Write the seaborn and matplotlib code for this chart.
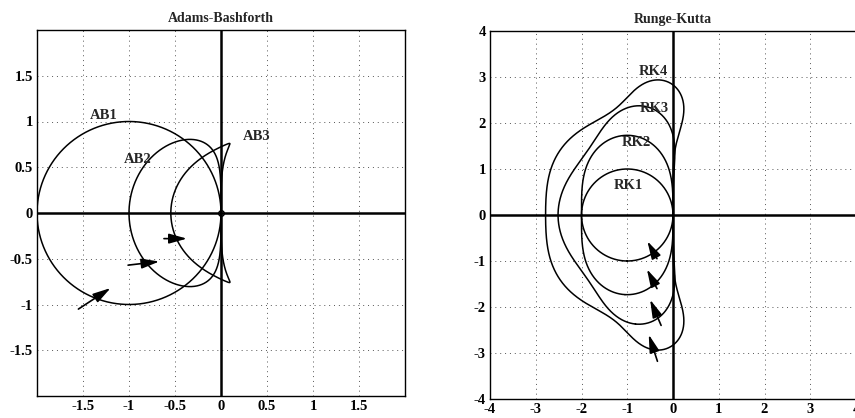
import numpy as np
import pandas as pd
import matplotlib
matplotlib.use("Agg")
import matplotlib.pyplot as plt
import seaborn as sns
import contourpy
from math import factorial

# ---- data: method definitions ----
ab_names = ["AB1", "AB2", "AB3"]
ab1_beta = [1.0]
ab2_beta = [3 / 2, -1 / 2]
ab3_beta = [23 / 12, -16 / 12, 5 / 12]
rk_names = ["RK1", "RK2", "RK3", "RK4"]
rk_orders = [1, 2, 3, 4]

# labels (text, x, y)
ab_label_x = [-1.27, -0.90, 0.39]
ab_label_y = [1.07, 0.58, 0.84]
rk_label_x = [-0.97, -0.81, -0.40, -0.44]
rk_label_y = [0.65, 1.58, 2.32, 3.12]

# arrows (start -> end)
ab_arrow_x0 = [-1.55, -1.01, -0.62]
ab_arrow_y0 = [-1.05, -0.57, -0.28]
ab_arrow_x1 = [-1.20, -0.67, -0.37]
ab_arrow_y1 = [-0.82, -0.53, -0.28]
rk_arrow_x0 = [-0.35, -0.35, -0.26, -0.34]
rk_arrow_y0 = [-0.95, -1.60, -2.40, -3.18]
rk_arrow_x1 = [-0.56, -0.57, -0.50, -0.53]
rk_arrow_y1 = [-0.57, -1.18, -1.84, -2.60]

ticks_left = [-1.5, -1, -0.5, 0, 0.5, 1, 1.5]
ticks_left_lbl = ["-1.5", "-1", "-0.5", "0", "0.5", "1", "1.5"]
ticks_right = [-4, -3, -2, -1, 0, 1, 2, 3, 4]

# ---- curves ----
theta = np.linspace(0, 2 * np.pi, 2001)
zeta = np.exp(1j * theta)
ab_frames = []
for name, beta in zip(ab_names, [ab1_beta, ab2_beta, ab3_beta]):
    k = len(beta)
    rho = zeta ** k - zeta ** (k - 1)
    sigma = np.polyval(beta, zeta)
    z = rho / sigma
    ab_frames.append(pd.DataFrame({"x": z.real, "y": z.imag, "m": name}))

xs = np.linspace(-4, 4, 801)
X, Y = np.meshgrid(xs, xs)
Z = X + 1j * Y
rk_frames = []
for name, p in zip(rk_names, rk_orders):
    R = sum(Z ** j / factorial(j) for j in range(p + 1))
    cg = contourpy.contour_generator(X, Y, np.abs(R))
    for si, seg in enumerate(cg.lines(1.0)):
        rk_frames.append(pd.DataFrame({"x": seg[:, 0], "y": seg[:, 1], "m": f"{name}_{si}"}))

# ---- figure ----
sns.set_theme(style="white")
plt.rcParams["font.family"] = ["Liberation Serif", "DejaVu Serif"]
W, H = 855, 418
fig = plt.figure(figsize=(W / 100, H / 100), dpi=100)
axL = fig.add_axes([37 / W, (H - 396) / H, 368 / W, 366 / H])
axR = fig.add_axes([490 / W, (H - 399) / H, 366 / W, 368 / H])

lw = 1.1
for df in ab_frames:
    sns.lineplot(data=df, x="x", y="y", sort=False, estimator=None, color="black",
                 lw=lw, ax=axL)
for df in rk_frames:
    sns.lineplot(data=df, x="x", y="y", sort=False, estimator=None, color="black",
                 lw=lw, ax=axR)

axL.plot([0], [0], marker="o", ms=4, mfc="none", mec="black", mew=1.0)

for ax, lim, ticks, lbls, title in [
    (axL, 2, ticks_left, ticks_left_lbl, "Adams-Bashforth"),
    (axR, 4, ticks_right, [str(t) for t in ticks_right], "Runge-Kutta"),
]:
    ax.set_xlim(-lim, lim)
    ax.set_ylim(-lim, lim)
    ax.set_xticks(ticks)
    ax.set_yticks(ticks)
    ax.set_xticklabels(lbls, fontsize=10.5, fontweight="bold")
    ax.set_yticklabels(lbls, fontsize=10.5, fontweight="bold")
    ax.tick_params(direction="in", length=3, width=0.8, colors="black", pad=3)
    ax.grid(True, linestyle=(0, (1, 4)), color="#555555", lw=0.7)
    ax.axhline(0, color="black", lw=1.8, zorder=1)
    ax.axvline(0, color="black", lw=1.8, zorder=1)
    for s in ax.spines.values():
        s.set_color("black")
        s.set_linewidth(1.0)
        s.set_visible(True)
    ax.set_xlabel("")
    ax.set_ylabel("")
    ax.set_title(title, fontsize=10, fontweight="bold", pad=6)

for name, x, y in zip(ab_names, ab_label_x, ab_label_y):
    axL.text(x, y, name, ha="center", va="center", fontsize=10.5, fontweight="bold")
for name, x, y in zip(rk_names, rk_label_x, rk_label_y):
    axR.text(x, y, name, ha="center", va="center", fontsize=10.5, fontweight="bold")

arrow_kw = dict(arrowstyle="-|>,head_length=0.9,head_width=0.25", color="black", lw=1.2,
                shrinkA=0, shrinkB=0)
for x0, y0, x1, y1 in zip(ab_arrow_x0, ab_arrow_y0, ab_arrow_x1, ab_arrow_y1):
    axL.annotate("", xy=(x1, y1), xytext=(x0, y0), arrowprops=arrow_kw)
for x0, y0, x1, y1 in zip(rk_arrow_x0, rk_arrow_y0, rk_arrow_x1, rk_arrow_y1):
    axR.annotate("", xy=(x1, y1), xytext=(x0, y0), arrowprops=arrow_kw)

fig.savefig("out.png", dpi=100, facecolor="white")
